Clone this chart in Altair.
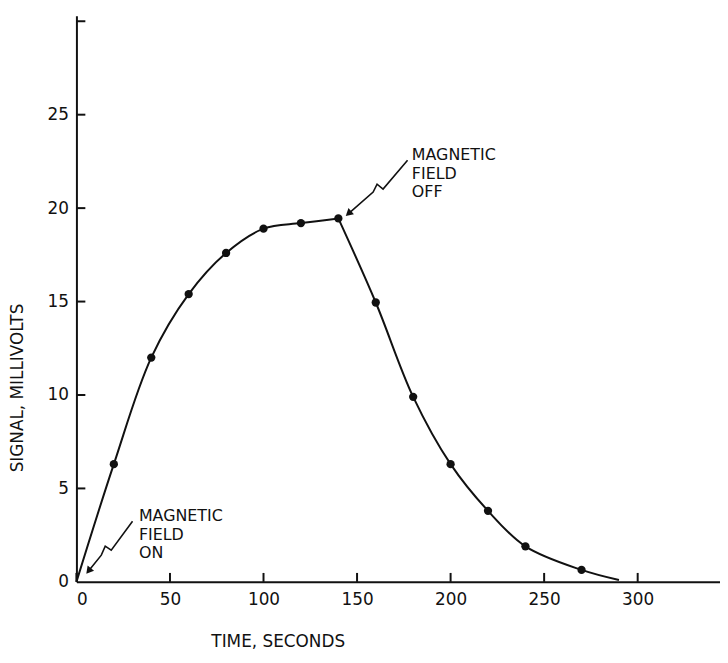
import altair as alt
import pandas as pd

# ---- data ----
rise_t = [0, 20, 40, 60, 80, 100, 120, 140]
rise_v = [0.0, 6.3, 12.0, 15.4, 17.6, 18.9, 19.2, 19.45]
fall_t = [140, 160, 180, 200, 220, 240, 270, 290]
fall_v = [19.45, 14.95, 9.9, 6.3, 3.8, 1.9, 0.64, 0.1]

dot_t = [20, 40, 60, 80, 100, 120, 140, 160, 180, 200, 220, 240, 270]
dot_v = [6.3, 12.0, 15.4, 17.6, 18.9, 19.2, 19.45, 14.95, 9.9, 6.3, 3.8, 1.9, 0.64]

x_ticks = [0, 50, 100, 150, 200, 250, 300]
y_labels = [0, 5, 10, 15, 20, 25]
y_ticks = [5, 10, 15, 20, 25, 30]

# annotations (data units)
on_text = ["MAGNETIC", "FIELD", "ON"]
on_text_t = [33.4, 33.4, 33.4]
on_text_v = [3.52, 2.52, 1.52]
on_arrow_t = [30.0, 18.6, 15.4, 13.3, 6.9]
on_arrow_v = [3.24, 1.70, 1.91, 1.43, 0.64]

off_text = ["MAGNETIC", "FIELD", "OFF"]
off_text_t = [179.3, 179.3, 179.3]
off_text_v = [22.85, 21.85, 20.85]
off_arrow_t = [177.0, 163.9, 160.7, 158.6, 145.9]
off_arrow_v = [22.56, 21.02, 21.28, 20.86, 19.75]

# ---- tables ----
curve = pd.DataFrame({
    "t": rise_t + fall_t,
    "v": rise_v + fall_v,
    "seg": ["rise"] * len(rise_t) + ["fall"] * len(fall_t),
    "o": list(range(len(rise_t))) + list(range(len(fall_t))),
})
dots = pd.DataFrame({"t": dot_t, "v": dot_v})
texts = pd.DataFrame({
    "t": on_text_t + off_text_t,
    "v": on_text_v + off_text_v,
    "label": on_text + off_text,
})
arrows = pd.DataFrame({
    "t": on_arrow_t + off_arrow_t,
    "v": on_arrow_v + off_arrow_v,
    "grp": ["on"] * len(on_arrow_t) + ["off"] * len(off_arrow_t),
    "o": list(range(len(on_arrow_t))) + list(range(len(off_arrow_t))),
})
heads = pd.DataFrame({
    "t": [on_arrow_t[-1], off_arrow_t[-1]],
    "v": [on_arrow_v[-1], off_arrow_v[-1]],
    "ang": [219, 229],
})
xt = pd.DataFrame({"t": x_ticks})
yt = pd.DataFrame({"v": y_ticks})

W, H = 649, 571
FONT = "DejaVu Sans"

xs = alt.Scale(domain=[0, 344], nice=False, zero=False)
ys = alt.Scale(domain=[0, 30.3], nice=False, zero=False)

xaxis = alt.Axis(values=x_ticks, format="d", ticks=False, tickSize=0, grid=False,
                 labelFontSize=17, labelFont=FONT, labelColor="#111",
                 labelPadding=10, domainColor="#111", domainWidth=2,
                 title="TIME, SECONDS", titleFont=FONT, titleFontSize=17,
                 titleFontWeight="normal", titleColor="#111",
                 titleX=203, titleY=60, titleAlign="center", titleBaseline="middle")
yaxis = alt.Axis(values=y_labels, format="d", ticks=False, tickSize=0, grid=False,
                 labelFontSize=17, labelFont=FONT, labelColor="#111",
                 labelPadding=8, domainColor="#111", domainWidth=2,
                 title="SIGNAL, MILLIVOLTS", titleFont=FONT, titleFontSize=17,
                 titleFontWeight="normal", titleColor="#111",
                 titleX=-59, titleY=375, titleAngle=270, titleAlign="center",
                 titleBaseline="middle")

base_line = alt.Chart(curve).mark_line(
    color="#111", strokeWidth=2, interpolate="catmull-rom"
).encode(
    x=alt.X("t:Q", scale=xs, axis=xaxis),
    y=alt.Y("v:Q", scale=ys, axis=yaxis),
    detail="seg:N",
    order="o:Q",
)

pts = alt.Chart(dots).mark_point(
    filled=True, color="#111", size=70, opacity=1
).encode(x=alt.X("t:Q", scale=xs), y=alt.Y("v:Q", scale=ys))

xtick = alt.Chart(xt).mark_rule(color="#111", strokeWidth=2).encode(
    x=alt.X("t:Q", scale=xs), y=alt.value(H), y2=alt.value(H - 9)
)
ytick = alt.Chart(yt).mark_rule(color="#111", strokeWidth=2).encode(
    y=alt.Y("v:Q", scale=ys), x=alt.value(0), x2=alt.value(9)
)

ann_text = alt.Chart(texts).mark_text(
    align="left", baseline="middle", font=FONT, fontSize=16, color="#111"
).encode(x=alt.X("t:Q", scale=xs), y=alt.Y("v:Q", scale=ys), text="label:N")

ann_line = alt.Chart(arrows).mark_line(color="#111", strokeWidth=1.6).encode(
    x=alt.X("t:Q", scale=xs), y=alt.Y("v:Q", scale=ys),
    detail="grp:N", order="o:Q",
)
ann_head = alt.Chart(heads).mark_point(
    shape="triangle", filled=True, color="#111", size=70, opacity=1
).encode(
    x=alt.X("t:Q", scale=xs), y=alt.Y("v:Q", scale=ys),
    angle=alt.Angle("ang:Q", scale=None),
)

chart = alt.layer(
    base_line, pts, xtick, ytick, ann_line, ann_head, ann_text
).properties(
    width=W, height=H,
    autosize=alt.AutoSizeParams(type="none"),
    padding={"left": 69, "top": 5, "right": 0, "bottom": 66},
    background="white",
).configure_view(stroke=None)

chart.save("out.html", embed_options={"renderer": "svg", "actions": False})
